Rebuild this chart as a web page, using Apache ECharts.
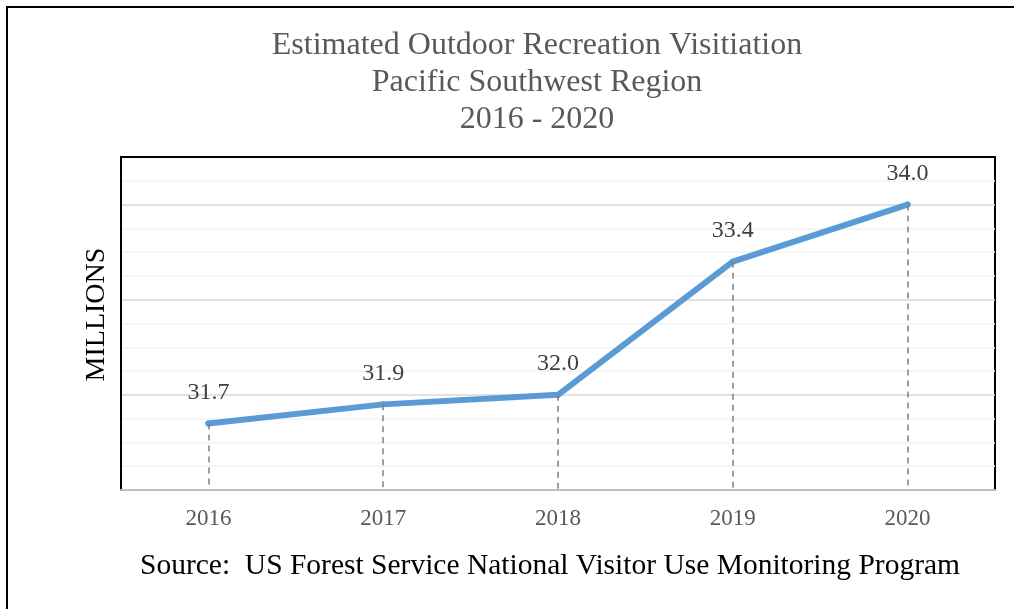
<!DOCTYPE html>
<html>
<head>
<meta charset="utf-8">
<script src="https://cdn.jsdelivr.net/npm/echarts@6/dist/echarts.min.js"></script>
<style>
html,body{margin:0;padding:0;background:#fff;}
#chart{width:1014px;height:609px;}
</style>
</head>
<body>
<div id="chart"></div>
<script>
const titleLines = ['Estimated Outdoor Recreation Visitiation', 'Pacific Southwest Region', '2016 - 2020'];
const sourceText = 'Source:  US Forest Service National Visitor Use Monitoring Program';
const yAxisName = 'MILLIONS';
const categories = ['2016', '2017', '2018', '2019', '2020'];
const visits = [31.7, 31.9, 32.0, 33.4, 34.0];
const yMin = 31;
const yMax = 34.5;
const yStep = 0.25;

const serif = 'Liberation Serif, Times New Roman, serif';
const chart = echarts.init(document.getElementById('chart'));

chart.setOption({
  animation: false,
  backgroundColor: '#fff',
  title: [
    {
      text: titleLines.join('\n'),
      left: 532, top: 22, textAlign: 'center',
      textStyle: { fontFamily: serif, fontWeight: 'normal', fontSize: 32, lineHeight: 37, color: '#595959' }
    },
    {
      text: sourceText,
      left: 545, top: 546, textAlign: 'center',
      textStyle: { fontFamily: serif, fontWeight: 'normal', fontSize: 29.5, color: '#000' }
    }
  ],
  graphic: [{
    type: 'polyline',
    shape: { points: [[7, 609], [7, 7], [1014, 7]] },
    style: { stroke: '#000', lineWidth: 2, fill: null }
  }],
  grid: {
    left: 121, right: 19, top: 157, bottom: 119,
    show: true, borderColor: '#000', borderWidth: 2, backgroundColor: 'transparent'
  },
  xAxis: [{
    type: 'category',
    data: categories,
    boundaryGap: true,
    axisLine: { show: true, lineStyle: { color: '#bfbfbf', width: 2 } },
    axisTick: { show: false },
    axisLabel: { fontFamily: serif, fontSize: 23, color: '#595959', margin: 17 },
    splitLine: { show: false },
    z: 5
  }, {
    type: 'category',
    data: categories,
    position: 'top',
    boundaryGap: true,
    axisLine: { show: true, lineStyle: { color: '#000', width: 2 } },
    axisTick: { show: false },
    axisLabel: { show: false },
    splitLine: { show: false },
    z: 5
  }],
  yAxis: {
    type: 'value',
    min: yMin, max: yMax, interval: yStep,
    name: yAxisName,
    nameLocation: 'middle',
    nameGap: 10,
    nameTextStyle: { fontFamily: serif, fontSize: 28, color: '#000', padding: [0, 0, 0, 18] },
    axisLine: { show: true, lineStyle: { color: '#000', width: 2 } },
    axisTick: { show: false },
    axisLabel: { show: false },
    splitLine: { show: true, lineStyle: { color: ['#d9d9d9', '#f2f2f2', '#f2f2f2', '#f2f2f2'], width: 1.5 } }
  },
  series: [{
    type: 'line',
    data: visits,
    symbol: 'circle',
    symbolSize: 6,
    showSymbol: true,
    lineStyle: { color: '#5b9bd5', width: 6, cap: 'round', join: 'round' },
    itemStyle: { color: '#5b9bd5' },
    label: {
      show: true, position: 'top', distance: 16,
      formatter: p => p.value.toFixed(1),
      fontFamily: serif, fontSize: 24, color: '#404040'
    },
    markLine: {
      silent: true,
      symbol: 'none',
      label: { show: false },
      lineStyle: { color: '#7f7f7f', type: [6, 5], width: 1.5 },
      data: visits.map((v, i) => [{ coord: [i, v] }, { coord: [i, yMin] }])
    },
    z: 3
  }]
});
</script>
</body>
</html>
